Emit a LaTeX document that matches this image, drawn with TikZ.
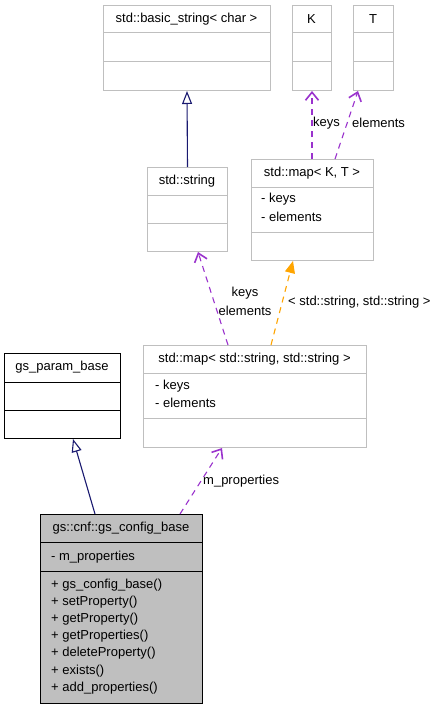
\documentclass[tikz,border=0pt]{standalone}
\usepackage{fontspec}
\setmainfont{Liberation Sans}
\usetikzlibrary{arrows.meta,calc}
\definecolor{boxgray}{HTML}{BFBFBF}
\definecolor{navyedge}{HTML}{191970}
\definecolor{purpleedge}{HTML}{9A32CD}
\definecolor{orangeedge}{HTML}{FFA500}
\begin{document}
\begin{tikzpicture}[x=1pt,y=-1pt,
  gbox/.style={draw=boxgray,line width=1pt,fill=white,anchor=north west,inner sep=0pt},
  bbox/.style={draw=black,line width=1pt,fill=white,anchor=north west,inner sep=0pt},
  fbox/.style={draw=black,line width=1pt,fill=boxgray,anchor=north west,inner sep=0pt},
  gsep/.style={draw=boxgray,line width=1pt},
  bsep/.style={draw=black,line width=1pt},
  ttl/.style={inner sep=0pt,font=\fontsize{13}{15}\selectfont},
  mem/.style={inner sep=0pt,anchor=west,font=\fontsize{13}{15}\selectfont},
  lbl/.style={inner sep=0pt,font=\fontsize{13}{15}\selectfont},
  inh/.style={draw=navyedge,line width=1.1pt,-{Triangle[open,length=13pt,width=10pt,fill=white]}},
  use/.style={draw=purpleedge,line width=1.1pt,dash pattern=on 6pt off 5pt,-{Straight Barb[length=8pt,width=13pt,line width=1.6pt]}},
  tmpl/.style={draw=orangeedge,line width=1.1pt,dash pattern=on 6pt off 5pt,-{Triangle[length=12pt,width=10pt]}}]
\useasboundingbox (0,0) rectangle (443,709);
\fill[white] (0,0) rectangle (443,709);

% std::basic_string< char >
\node[gbox,minimum width=167pt,minimum height=85pt] (bs) at (103,5) {};
\draw[gsep] (103,33) -- (270,33);
\draw[gsep] (103,61.5) -- (270,61.5);
\node[ttl] (bst) at (186.5,19) {std::basic\_string< char >};

% K
\node[gbox,minimum width=39pt,minimum height=85pt] (K) at (292,5) {};
\draw[gsep] (292,33) -- (331,33);
\draw[gsep] (292,61.5) -- (331,61.5);
\node[ttl] (Kt) at (311.5,19) {K};

% T
\node[gbox,minimum width=40pt,minimum height=85pt] (T) at (353,5) {};
\draw[gsep] (353,33) -- (393,33);
\draw[gsep] (353,61.5) -- (393,61.5);
\node[ttl] (Tt) at (373,19) {T};

% std::string
\node[gbox,minimum width=80pt,minimum height=84pt] (ss) at (147,167) {};
\draw[gsep] (147,195) -- (227,195);
\draw[gsep] (147,223) -- (227,223);
\node[ttl] (sst) at (187,181) {std::string};

% std::map< K, T >
\node[gbox,minimum width=122pt,minimum height=101pt] (mkt) at (251,159) {};
\draw[gsep] (251,187) -- (373,187);
\draw[gsep] (251,232) -- (373,232);
\node[ttl] (mktt) at (312,173) {std::map< K, T >};
\node[mem] (mkt1) at (261,199.5) {- keys};
\node[mem] (mkt2) at (261,216.5) {- elements};

% std::map< std::string, std::string >
\node[gbox,minimum width=223pt,minimum height=102pt] (mss) at (143,345) {};
\draw[gsep] (143,373) -- (366,373);
\draw[gsep] (143,418.5) -- (366,418.5);
\node[ttl] (msst) at (254.5,359) {std::map< std::string, std::string >};
\node[mem] (mss1) at (155,386) {- keys};
\node[mem] (mss2) at (155,403) {- elements};

% gs_param_base
\node[bbox,minimum width=116pt,minimum height=85pt] (pb) at (4,353) {};
\draw[bsep] (4,382) -- (120,382);
\draw[bsep] (4,410) -- (120,410);
\node[ttl] (pbt) at (62,367) {gs\_param\_base};

% gs::cnf::gs_config_base
\node[fbox,minimum width=162pt,minimum height=189pt] (cfg) at (40,514) {};
\draw[bsep] (40,542.5) -- (202,542.5);
\draw[bsep] (40,571) -- (202,571);
\node[ttl] (cfgt) at (121,528.5) {gs::cnf::gs\_config\_base};
\node[mem] (cfga) at (51,557) {- m\_properties};
\node[mem] (cfg1) at (51,585) {+ gs\_config\_base()};
\node[mem] (cfg2) at (51,602) {+ setProperty()};
\node[mem] (cfg3) at (51,619) {+ getProperty()};
\node[mem] (cfg4) at (51,636) {+ getProperties()};
\node[mem] (cfg5) at (51,653.5) {+ deleteProperty()};
\node[mem] (cfg6) at (51,671) {+ exists()};
\node[mem] (cfg7) at (51,688) {+ add\_properties()};

% connectors
\draw[inh] (ss.north) -- (bs.south);
\draw[inh] ([xshift=55pt]cfg.north west) -- ([xshift=69pt]pb.south west);
\draw[use] ([xshift=140pt]cfg.north west) -- ([xshift=79pt]mss.south west);
\draw[use] ([xshift=85pt]mss.north west) -- ([xshift=51pt]ss.south west);
\draw[tmpl] ([xshift=128pt]mss.north west) -- ([xshift=42pt]mkt.south west);
\draw[use] ([xshift=61pt]mkt.north west) -- (K.south);
\draw[use] ([xshift=84pt]mkt.north west) -- ([xshift=5pt]T.south west);

% labels
\node[lbl,anchor=west] (l1) at (313,123) {keys};
\node[lbl,anchor=west] (l2) at (352,123) {elements};
\node[lbl] (l3) at (245,293) {keys};
\node[lbl] (l4) at (245,311) {elements};
\node[lbl,anchor=west] (l5) at (288,302) {< std::string, std::string >};
\node[lbl,anchor=west] (l6) at (203,481) {m\_properties};
\end{tikzpicture}
\end{document}
